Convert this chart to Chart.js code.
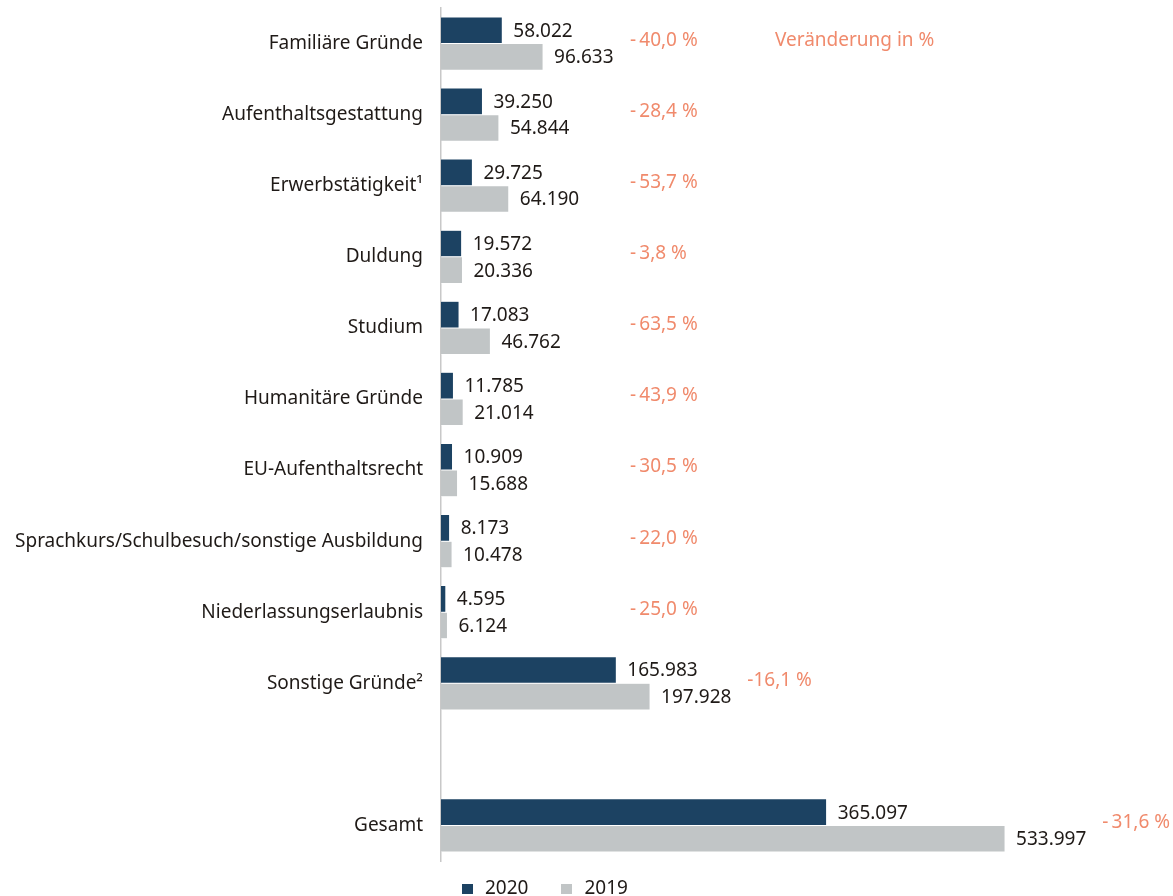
<!DOCTYPE html>
<html>
<head>
<meta charset="utf-8">
<script src="https://cdn.jsdelivr.net/npm/chart.js@4/dist/chart.umd.min.js"></script>
<style>
  body { margin: 0; background: #fff; }
  #wrap { position: relative; width: 1173px; height: 896px; }
  #legend { position: absolute; top: 874px; left: 462px; font-family: "Noto Sans", sans-serif; font-size: 19px; color: #1f1a17; }
  #legend span.box { display: inline-block; width: 11px; height: 10px; margin-right: 12px; }
  #legend span.item { margin-right: 28px; }
</style>
</head>
<body>
<div id="wrap">
  <canvas id="chart" width="1173" height="896"></canvas>
  <div id="legend">
    <span class="item"><span class="box" style="background:#1c4262"></span>2020</span>
    <span class="item"><span class="box" style="background:#c1c5c6"></span>2019</span>
  </div>
</div>
<script>
// chart data
const categories = [
  "Familiäre Gründe",
  "Aufenthaltsgestattung",
  "Erwerbstätigkeit¹",
  "Duldung",
  "Studium",
  "Humanitäre Gründe",
  "EU-Aufenthaltsrecht",
  "Sprachkurs/Schulbesuch/sonstige Ausbildung",
  "Niederlassungserlaubnis",
  "Sonstige Gründe²",
  "",
  "Gesamt"
];
const values2020 = [58022, 39250, 29725, 19572, 17083, 11785, 10909, 8173, 4595, 165983, null, 365097];
const values2019 = [96633, 54844, 64190, 20336, 46762, 21014, 15688, 10478, 6124, 197928, null, 533997];
const changes = ["-\u200940,0 %", "-\u200928,4 %", "-\u200953,7 %", "-\u20093,8 %", "-\u200963,5 %", "-\u200943,9 %",
  "-\u200930,5 %", "-\u200922,0 %", "-\u200925,0 %", "-16,1 %", "", "-\u200931,6 %"];

const FONT = '"Noto Sans", sans-serif';
const TEXT_COLOR = '#1f1a17';
const ORANGE = '#f08a6c';

function fmt(v) {
    return v.toString().replace(/\B(?=(\d{3})+(?!\d))/g, '.');
}

// draws value labels and change column
const labelPlugin = {
    id: 'labels',
    afterDatasetsDraw(chart) {
        const ctx = chart.ctx;
        ctx.save();
        ctx.font = '19px ' + FONT;
        ctx.textBaseline = 'middle';
        ctx.textAlign = 'left';
        let lastEnd = [];
        chart.data.datasets.forEach((ds, i) => {
            const meta = chart.getDatasetMeta(i);
            meta.data.forEach((bar, j) => {
                if (ds.data[j] == null) return;
                const txt = fmt(ds.data[j]);
                ctx.fillStyle = TEXT_COLOR;
                ctx.fillText(txt, bar.x + 11, bar.y + 1);
                if (i === 1) lastEnd[j] = bar.x + 11 + ctx.measureText(txt).width;
            });
        });
        const yScale = chart.scales.y;
        ctx.fillStyle = ORANGE;
        changes.forEach((c, j) => {
            if (!c) return;
            const x = Math.max(630, lastEnd[j] + 16);
            ctx.fillText(c, x, yScale.getPixelForValue(j) - 3);
        });
        ctx.fillText('Veränderung in %', 775, yScale.getPixelForValue(0) - 3);
        ctx.restore();
    }
};

new Chart(document.getElementById('chart'), {
    type: 'bar',
    data: {
        labels: categories,
        datasets: [
            { label: '2020', data: values2020, backgroundColor: '#1c4262', borderColor: '#ffffff', borderWidth: 0.5 },
            { label: '2019', data: values2019, backgroundColor: '#c1c5c6', borderColor: '#ffffff', borderWidth: 0.5 }
        ]
    },
    options: {
        indexAxis: 'y',
        responsive: false,
        animation: false,
        layout: { padding: { top: 8, bottom: 35, left: 0, right: 0 } },
        scales: {
            x: { display: false, min: 0, max: 693000 },
            y: {
                grid: { display: false, drawTicks: false },
                border: { display: true, color: '#c8c8c8', width: 1.5 },
                ticks: { color: TEXT_COLOR, font: { family: FONT, size: 19 }, padding: 18 },
                afterFit(scale) {
                    scale.width = 441;
                    scale.paddingTop = 0;
                    scale.paddingBottom = 0;
                }
            }
        },
        datasets: { bar: { barPercentage: 1, categoryPercentage: 0.75 } },
        plugins: { legend: { display: false }, tooltip: { enabled: false } }
    },
    plugins: [labelPlugin]
});
</script>
</body>
</html>
